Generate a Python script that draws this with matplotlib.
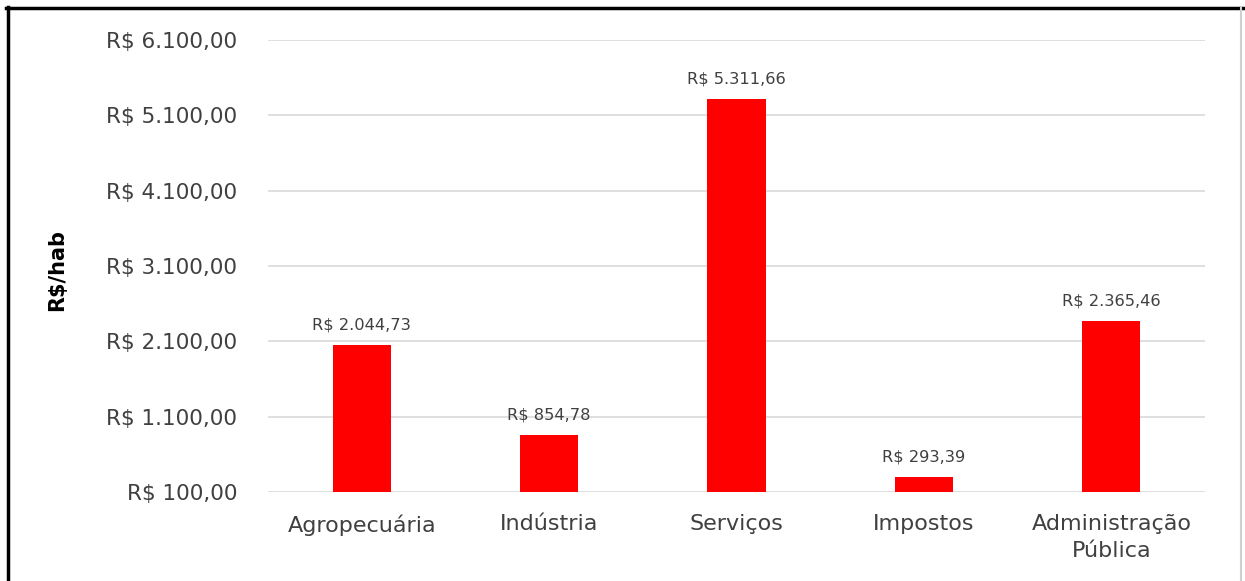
import matplotlib.pyplot as plt
from matplotlib.lines import Line2D
from matplotlib.ticker import FuncFormatter

setores = ['Agropecuária', 'Indústria', 'Serviços', 'Impostos', 'Administração\nPública']
valores = [2044.73, 854.78, 5311.66, 293.39, 2365.46]
marcas_y = [100, 1100, 2100, 3100, 4100, 5100, 6100]


def reais(v, pos=None):
    s = f'{v:,.2f}'.replace(',', 'X').replace('.', ',').replace('X', '.')
    return 'R$ ' + s


plt.rcParams['font.family'] = ['DejaVu Sans']

fig = plt.figure(figsize=(12.45, 5.81), dpi=100)
ax = fig.add_axes([0.2153, 0.1532, 0.7526, 0.778])

x = range(len(setores))
barras = ax.bar(x, valores, width=0.31, color='#ff0000', zorder=3)
for b, v in zip(barras, valores):
    ax.text(b.get_x() + b.get_width() / 2, v + 170, reais(v), ha='center', va='bottom',
            fontsize=11.7, color='#404040')

ax.set_xlim(-0.5, len(setores) - 0.5)
ax.set_ylim(100, 6100)
ax.set_yticks(marcas_y)
ax.yaxis.set_major_formatter(FuncFormatter(reais))
ax.set_xticks(list(x))
ax.set_xticklabels(setores, fontsize=16, color='#404040', linespacing=1.45)
ax.tick_params(axis='y', labelsize=15.5, labelcolor='#404040', length=0, pad=22)
ax.tick_params(axis='x', length=0, pad=16)
ax.grid(axis='y', color='#d9d9d9', linewidth=1.2, zorder=0)
for s in ax.spines.values():
    s.set_visible(False)

fig.text(0.046, 0.535, 'R$/hab', rotation=90, fontsize=15, fontweight='bold',
         ha='center', va='center', color='black')

# moldura
fig.add_artist(Line2D([0.0064, 0.0064], [0, 0.988], color='black', linewidth=2.5, transform=fig.transFigure))
fig.add_artist(Line2D([0.005, 0.999], [0.986, 0.986], color='black', linewidth=2.5, transform=fig.transFigure))
fig.add_artist(Line2D([0.997, 0.997], [0, 0.986], color='#d0d0d0', linewidth=1.5, transform=fig.transFigure))

fig.savefig('out.png', dpi=100)
